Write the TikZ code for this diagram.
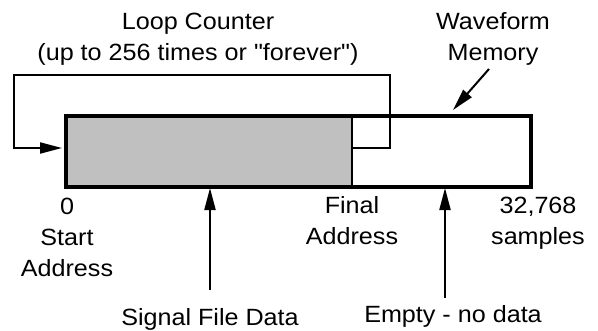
\documentclass[tikz,border=0pt]{standalone}
\usepackage{fontspec}
\newfontfamily\diagfont{Liberation Sans}[FakeStretch=1.07]
\usetikzlibrary{arrows.meta}
\definecolor{memgray}{RGB}{192,192,192}
\begin{document}
\begin{tikzpicture}[x=1pt,y=-1pt,
  lbl/.style={font=\diagfont\fontsize{23.5}{31}\selectfont, align=center, inner sep=0pt, anchor=north},
  wire/.style={line width=2pt},
  arw/.style={wire,-{Triangle[length=22pt,width=11pt]}},
  membox/.style={draw, line width=4pt, inner sep=0pt, anchor=north west}]
\useasboundingbox (0,0) rectangle (598,330);
% memory
\fill[memgray] (64,114) rectangle (352,185);
\node[membox, minimum width=465pt, minimum height=71pt] (mem) at (64,114) {};
\draw[wire] (352,114) -- (352,185);
% loop
\coordinate (loopS) at (352,148);
\coordinate (loopE) at (62,148);
\draw[arw] (loopS) -- (390,148) -- (390,75) -- (14,75) -- (14,148) -- (loopE);
% labels
\node[lbl] (loop) at (198,12.5) {Loop Counter\\(up to 256 times or "forever")};
\node[lbl] (wave) at (493,12) {Waveform\\Memory};
\node[lbl] (start) at (67,197.5) {0\\Start\\Address};
\node[lbl] (final) at (352,196.5) {Final\\Address};
\node[lbl] (samp) at (538,197) {32,768\\samples};
\node[lbl] (sig) at (210,308) {Signal File Data};
\node[lbl] (empty) at (453,305.5) {Empty - no data};
% arrows
\coordinate (waveS) at (489,69);
\coordinate (waveE) at (453,110);
\draw[arw] (waveS) -- (waveE);
\coordinate (sigS) at (210,290);
\coordinate (sigE) at (210,188);
\draw[arw] (sigS) -- (sigE);
\coordinate (empS) at (445,298);
\coordinate (empE) at (445,188);
\draw[arw] (empS) -- (empE);
\end{tikzpicture}
\end{document}
